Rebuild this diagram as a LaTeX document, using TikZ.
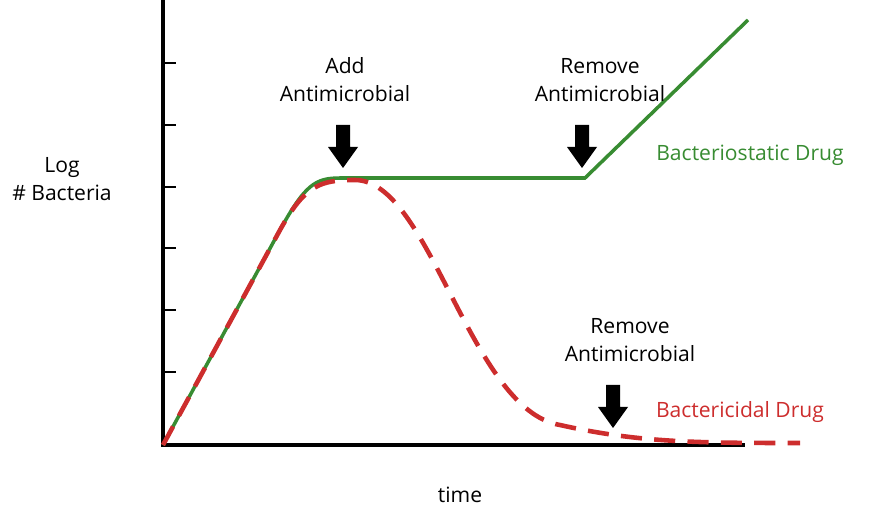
\documentclass[tikz,border=0pt]{standalone}
\usepackage{fontspec}
\setmainfont{Open Sans}
\usetikzlibrary{arrows.meta, positioning}
\definecolor{stat}{RGB}{56,140,50}
\definecolor{cidal}{RGB}{205,45,45}
\tikzset{
  lbl/.style={align=center, font=\fontsize{12}{16}\selectfont},
  drop/.style={fill=black},
}
\newcommand{\droparrow}[2]{% x, top y
  \fill (#1-7,#2) -- (#1+7,#2) -- (#1+7,#2+22) -- (#1+15,#2+22) -- (#1,#2+43)
    -- (#1-15,#2+22) -- (#1-7,#2+22) -- cycle;}
\begin{document}
\begin{tikzpicture}[x=0.02cm, y=-0.02cm]
\useasboundingbox (0,0) rectangle (882,516);
% axes
\coordinate (o) at (163,445);
\draw[line width=1.8pt] (163,0) -- (o) -- (745,445);
\foreach \t in {63,125,187,248,310,372}
  \draw[line width=1.5pt] (163,\t) -- (176,\t);
% curves
\draw[stat, line width=2pt] (o) -- (280,230) .. controls (305,185) and (315,178) .. (340,178)
  -- (585,178) -- (748,20);
\draw[cidal, line width=2.6pt, dash pattern=on 12pt off 7pt]
  (o) -- (280,230) .. controls (305,185) and (320,180) .. (355,180)
  .. controls (430,180) and (470,410) .. (560,425)
  .. controls (640,443) and (700,443) .. (800,443);
% arrows
\droparrow{343}{125}
\droparrow{582}{125}
\droparrow{613}{385}
% labels
\node[lbl] (add) at (345,80) {Add\\Antimicrobial};
\node[lbl] (rem1) at (600,80) {Remove\\Antimicrobial};
\node[lbl] (rem2) at (630,340) {Remove\\Antimicrobial};
\node[lbl, text=stat] (stlbl) at (750,155) {Bacteriostatic Drug};
\node[lbl, text=cidal] (cidlbl) at (740,412) {Bactericidal Drug};
\node[lbl] (ylbl) at (62,179) {Log\\\# Bacteria};
\node[lbl] (xlbl) at (460,495) {time};
\end{tikzpicture}
\end{document}
